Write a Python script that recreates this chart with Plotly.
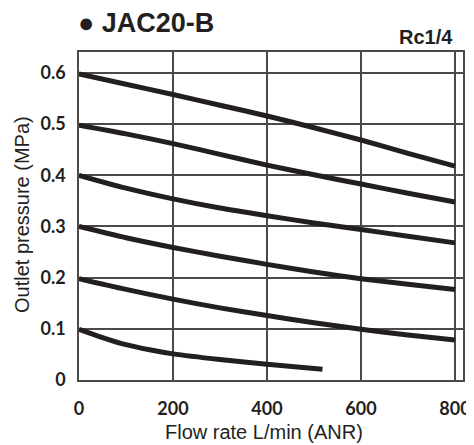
import plotly.graph_objects as go

flow = [0, 100, 200, 300, 400, 500, 600, 700, 800]
p06 = [0.598, 0.578, 0.558, 0.537, 0.516, 0.493, 0.469, 0.443, 0.418]
p05 = [0.498, 0.481, 0.462, 0.441, 0.420, 0.401, 0.383, 0.365, 0.348]
p04 = [0.400, 0.375, 0.354, 0.336, 0.321, 0.307, 0.294, 0.281, 0.268]
p03 = [0.300, 0.278, 0.259, 0.242, 0.226, 0.211, 0.198, 0.187, 0.177]
p02 = [0.198, 0.177, 0.158, 0.141, 0.126, 0.112, 0.099, 0.088, 0.078]
flow01 = [0, 50, 100, 150, 200, 300, 400, 518]
p01 = [0.099, 0.083, 0.069, 0.059, 0.051, 0.040, 0.031, 0.021]

x_ticks = [0, 200, 400, 600, 800]
y_ticks = [0, 0.1, 0.2, 0.3, 0.4, 0.5, 0.6]
y_tick_labels = ["0", "0.1", "0.2", "0.3", "0.4", "0.5", "0.6"]

fig = go.Figure()
line = dict(color="#231f20", width=5, shape="spline", smoothing=0.8)
for xs, ys in [(flow, p06), (flow, p05), (flow, p04), (flow, p03), (flow, p02), (flow01, p01)]:
    fig.add_trace(go.Scatter(x=xs, y=ys, mode="lines", line=line, showlegend=False, hoverinfo="skip"))

# page body has an 8px default margin: shrink the figure to compensate
grid = "#4a4a4a"
fig.update_layout(
    width=466, height=437,
    margin=dict(l=71, r=11, t=44, b=65, autoexpand=False),
    paper_bgcolor="white", plot_bgcolor="white",
    showlegend=False,
)
fig.update_xaxes(
    range=[0, 817], tickvals=x_ticks, ticktext=[str(v) for v in x_ticks],
    showgrid=True, gridcolor=grid, gridwidth=1.5, automargin=False,
    showline=True, linecolor=grid, linewidth=1.5, mirror=True,
    zeroline=False, ticks="outside", ticklen=12, tickcolor="rgba(0,0,0,0)",
    tickfont=dict(family="Lato", size=18, color="#231f20", weight="bold"),
)
fig.update_yaxes(
    range=[0, 0.641], tickvals=y_ticks, ticktext=y_tick_labels,
    showgrid=True, gridcolor=grid, gridwidth=1.5, automargin=False,
    showline=True, linecolor=grid, linewidth=1.5, mirror=True,
    zeroline=False, ticks="outside", ticklen=8, tickcolor="rgba(0,0,0,0)",
    tickfont=dict(family="Lato", size=18, color="#231f20", weight="bold"),
)
fig.add_annotation(text="<b>● JAC20-B</b>", xref="paper", yref="paper",
                   x=(76 - 79) / 384, y=1 + (52 - 23) / 328, xanchor="left", yanchor="middle",
                   showarrow=False, font=dict(family="Liberation Sans", size=27, color="#231f20"))
fig.add_annotation(text="<b>Rc1/4</b>", xref="paper", yref="paper",
                   x=(455 - 79) / 384, y=1 + (52 - 37) / 328, xanchor="right", yanchor="middle",
                   showarrow=False, font=dict(family="Liberation Sans", size=20, color="#231f20"))
fig.add_annotation(text="Flow rate L/min (ANR)", xref="paper", yref="paper",
                   x=(264 - 79) / 384, y=-(432 - 380) / 328, xanchor="center", yanchor="middle",
                   showarrow=False, font=dict(family="Liberation Sans", size=20, color="#231f20"))
fig.add_annotation(text="Outlet pressure (MPa)", xref="paper", yref="paper", textangle=-90,
                   x=-(79 - 22) / 384, y=(380 - 215) / 328, xanchor="center", yanchor="middle",
                   showarrow=False, font=dict(family="Liberation Sans", size=20, color="#231f20"))

fig.write_html("out.html")
